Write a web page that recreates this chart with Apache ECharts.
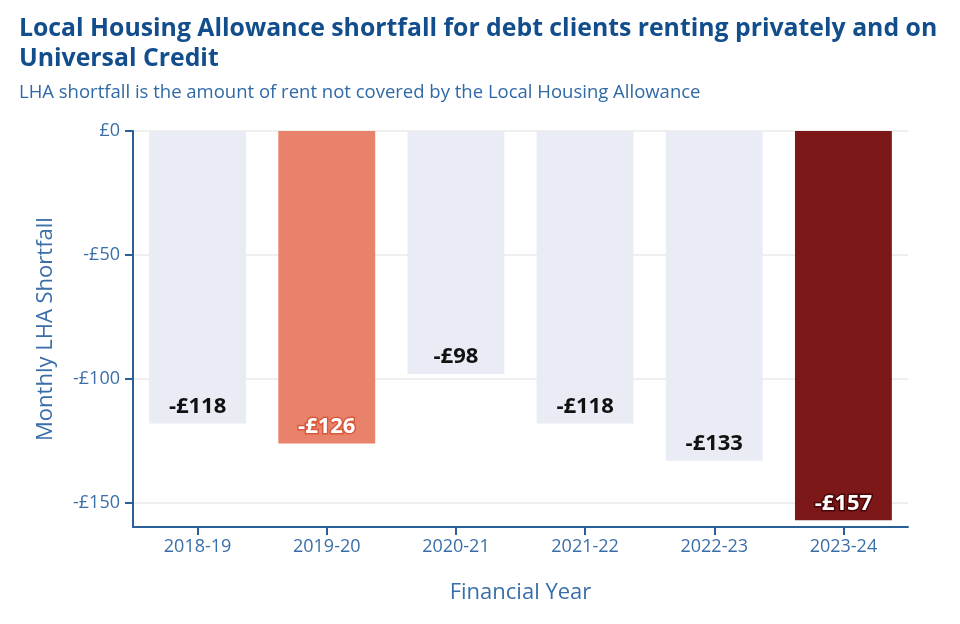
<!DOCTYPE html>
<html><head><meta charset="utf-8">
<script src="https://cdn.jsdelivr.net/npm/echarts@6/dist/echarts.min.js"></script>
<style>html,body{margin:0;padding:0;background:#fff}#c{width:960px;height:624px}</style>
</head><body><div id="c"></div>
<script>
const categories = ['2018-19','2019-20','2020-21','2021-22','2022-23','2023-24'];
const shortfall = [-118, -126, -98, -118, -133, -157];
const barColors = ['#e9ecf4','#e8826a','#e9ecf4','#e9ecf4','#e9ecf4','#7c1818'];
const labelColors = ['#111','#fff','#111','#111','#111','#fff'];
const labelBorders = [null,'#d9583c',null,null,null,'#4a0606'];
const yTicks = [0,-50,-100,-150];

const axisBlue = '#2a5f98';
const textBlue = '#3a6ea8';
const font = '"Open Sans", "Noto Sans", sans-serif';

const chart = echarts.init(document.getElementById('c'), null, {renderer:'canvas'});
chart.setOption({
  animation:false,
  backgroundColor:'#fff',
  title:[{
    text:'Local Housing Allowance shortfall for debt clients renting privately and on\nUniversal Credit',
    left:14, top:9,
    textStyle:{fontFamily:font,fontSize:24.8,fontWeight:'bold',color:'#124d8c',lineHeight:30}
  },{
    text:'LHA shortfall is the amount of rent not covered by the Local Housing Allowance',
    left:14, top:78,
    textStyle:{fontFamily:font,fontSize:18.5,fontWeight:'normal',color:'#2f69a6'}
  }],
  grid:{left:133,right:52,top:131,bottom:97,containLabel:false},
  xAxis:{
    type:'category', data:categories,
    name:'Financial Year', nameLocation:'middle', nameGap:55,
    nameTextStyle:{fontFamily:font,fontSize:22,color:textBlue},
    axisLine:{onZero:false,lineStyle:{color:axisBlue,width:2}},
    axisTick:{show:true,alignWithLabel:true,length:8,lineStyle:{color:axisBlue,width:2}},
    axisLabel:{fontFamily:font,fontSize:18,color:textBlue,margin:11},
    position:'bottom'
  },
  yAxis:{
    type:'value', min:-159.7, max:0,
    name:'Monthly LHA Shortfall', nameLocation:'middle', nameGap:76, nameRotate:90,
    nameTextStyle:{fontFamily:font,fontSize:22,color:textBlue},
    axisLine:{show:true,lineStyle:{color:axisBlue,width:2}},
    axisTick:{show:true,length:8,customValues:yTicks,lineStyle:{color:axisBlue,width:2}},
    axisLabel:{fontFamily:font,fontSize:18,color:textBlue,margin:13,customValues:yTicks,
      formatter:v=> v<0?'-£'+Math.abs(v):'£'+v},
    splitLine:{show:true,customValues:yTicks,lineStyle:{color:'#eaeaea',width:1.5}}
  },
  series:[{
    type:'bar', barCategoryGap:'25%',
    data:shortfall.map((v,i)=>({
      value:v,
      itemStyle:{color:barColors[i]},
      label:{
        show:true, position:'insideBottom', distance:6,
        formatter:'-£'+Math.abs(v),
        fontFamily:font, fontSize:22, fontWeight:'bold', color:labelColors[i],
        textBorderColor:labelBorders[i]||'transparent', textBorderWidth:labelBorders[i]?3:0
      }
    }))
  },{
    type:'custom', silent:true, clip:false, z:5,
    data:yTicks.map(v=>[0,v]),
    renderItem:(params, api)=>{
      const p = api.coord([0, api.value(1)]);
      const x0 = params.coordSys.x;
      return {type:'line', shape:{x1:x0-8, y1:p[1], x2:x0, y2:p[1]},
        style:{stroke:axisBlue, lineWidth:2}};
    }
  }]
});
</script></body></html>
